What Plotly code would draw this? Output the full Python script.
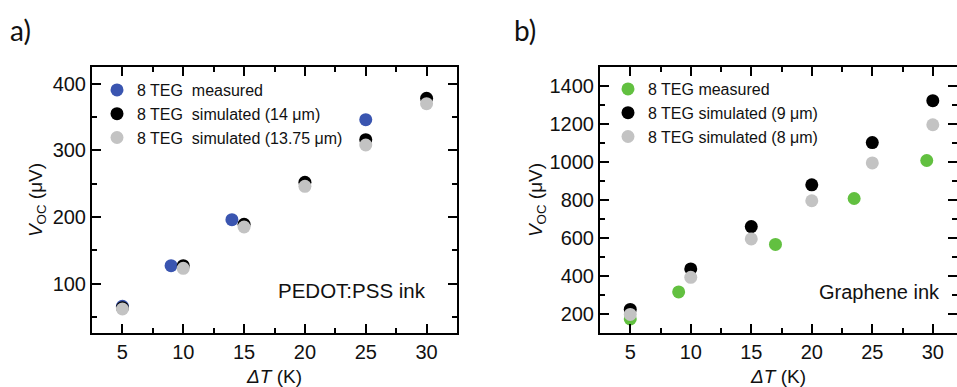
import plotly.graph_objects as go

# ---------------- data ----------------
# Panel a) PEDOT:PSS ink
a_meas_dT = [5, 9, 14, 25]
a_meas_V = [66, 127, 196, 346]
a_sim_dT = [5, 10, 15, 20, 25, 30]
a_sim14_V = [64, 127, 189, 252, 316, 378]
a_sim1375_V = [62, 123, 185, 246, 308, 370]

# Panel b) Graphene ink
b_meas_dT = [5, 9, 17, 23.5, 29.5]
b_meas_V = [174, 316, 566, 808, 1008]
b_sim_dT = [5, 10, 15, 20, 25, 30]
b_sim9_V = [224, 437, 660, 880, 1102, 1323]
b_sim8_V = [198, 393, 595, 796, 995, 1196]

a_names = ["8 TEG  measured", "8 TEG  simulated (14 μm)", "8 TEG  simulated (13.75 μm)"]
b_names = ["8 TEG measured", "8 TEG simulated (9 μm)", "8 TEG simulated (8 μm)"]

x_ticks = [5, 10, 15, 20, 25, 30]
a_y_ticks = [100, 200, 300, 400]
b_y_ticks = [200, 400, 600, 800, 1000, 1200, 1400]

BLUE = "#3a55b0"
GREEN = "#62c040"
BLACK = "#000000"
GRAY = "#c3c3c3"
FONT = "Liberation Sans, Arial, sans-serif"
MS = 13

fig = go.Figure()

def add(x, y, name, color, xa, ya, leg):
    fig.add_trace(go.Scatter(
        x=x, y=y, mode="markers", name=name,
        marker=dict(color=color, size=MS, line=dict(width=0)),
        xaxis=xa, yaxis=ya, legend=leg))

add(a_meas_dT, a_meas_V, a_names[0], BLUE, "x", "y", "legend")
add(a_sim_dT, a_sim14_V, a_names[1], BLACK, "x", "y", "legend")
add(a_sim_dT, a_sim1375_V, a_names[2], GRAY, "x", "y", "legend")

add(b_meas_dT, b_meas_V, b_names[0], GREEN, "x2", "y2", "legend2")
add(b_sim_dT, b_sim9_V, b_names[1], BLACK, "x2", "y2", "legend2")
add(b_sim_dT, b_sim8_V, b_names[2], GRAY, "x2", "y2", "legend2")

W, H = 957, 387
def px(v): return v / W
def py(v): return (H - v) / H

common_axis = dict(
    showline=True, linecolor="black", linewidth=2, mirror="ticks",
    ticks="inside", ticklen=9, tickwidth=1.5, tickcolor="black",
    showgrid=False, zeroline=False,
    tickfont=dict(family=FONT, size=20, color="#111"),
    automargin=False,
)

def xtitle():
    return dict(text="<i>ΔT</i> (K)", font=dict(family=FONT, size=19, color="#111"), standoff=8)

def ytitle(st):
    return dict(text="<i>V</i><sub>OC</sub> (μV)", font=dict(family=FONT, size=19, color="#111"), standoff=st)

minor_style = dict(ticks="inside", ticklen=5, tickwidth=1.5, tickcolor="black")

fig.update_layout(
    width=W, height=H,
    margin=dict(l=0, r=0, t=0, b=0),
    paper_bgcolor="white", plot_bgcolor="white",
    font=dict(family=FONT, color="#111"),
    xaxis=dict(domain=[px(92), px(457)], range=[2.5, 32.5], anchor="y",
               tickvals=x_ticks, minor=dict(dtick=2.5, tick0=2.5, **minor_style),
               title=xtitle(), **common_axis),
    yaxis=dict(domain=[py(333), py(67)], range=[26, 425], anchor="x",
               tickvals=a_y_ticks, minor=dict(dtick=50, tick0=0, **minor_style),
               title=ytitle(5), **common_axis),
    xaxis2=dict(domain=[px(600), 1.0], range=[2.5, 32.0], anchor="y2",
                tickvals=x_ticks, minor=dict(dtick=2.5, tick0=2.5, **minor_style),
                title=xtitle(), **common_axis),
    yaxis2=dict(domain=[py(333), py(67)], range=[100, 1500], anchor="x2",
                tickvals=b_y_ticks, minor=dict(dtick=100, tick0=0, **minor_style),
                title=ytitle(2), **common_axis),
    legend=dict(x=px(97), y=py(73), xanchor="left", yanchor="top",
                bgcolor="rgba(0,0,0,0)", font=dict(family=FONT, size=16, color="#111"),
                tracegroupgap=0, itemsizing="trace"),
    legend2=dict(x=px(608), y=py(72), xanchor="left", yanchor="top",
                 bgcolor="rgba(0,0,0,0)", font=dict(family=FONT, size=16, color="#111"),
                 tracegroupgap=0, itemsizing="trace"),
    showlegend=True,
    annotations=[
        dict(text="PEDOT:PSS ink", x=30.1, y=90, xref="x", yref="y",
             showarrow=False, xanchor="right", yanchor="middle",
             font=dict(family=FONT, size=20.5, color="#111")),
        dict(text="Graphene ink", x=30.8, y=315, xref="x2", yref="y2",
             showarrow=False, xanchor="right", yanchor="middle",
             font=dict(family=FONT, size=20, color="#111")),
        dict(text="a)", x=px(8), y=py(30), xref="paper", yref="paper",
             showarrow=False, xanchor="left", yanchor="middle",
             font=dict(family="Lato, Open Sans, sans-serif", size=28, color="#111")),
        dict(text="b)", x=px(512), y=py(30), xref="paper", yref="paper",
             showarrow=False, xanchor="left", yanchor="middle",
             font=dict(family="Lato, Open Sans, sans-serif", size=28, color="#111")),
    ],
)

fig.write_html("out.html", config={"displayModeBar": False},
               post_script="document.body.style.margin='0';document.body.style.overflow='hidden';")
